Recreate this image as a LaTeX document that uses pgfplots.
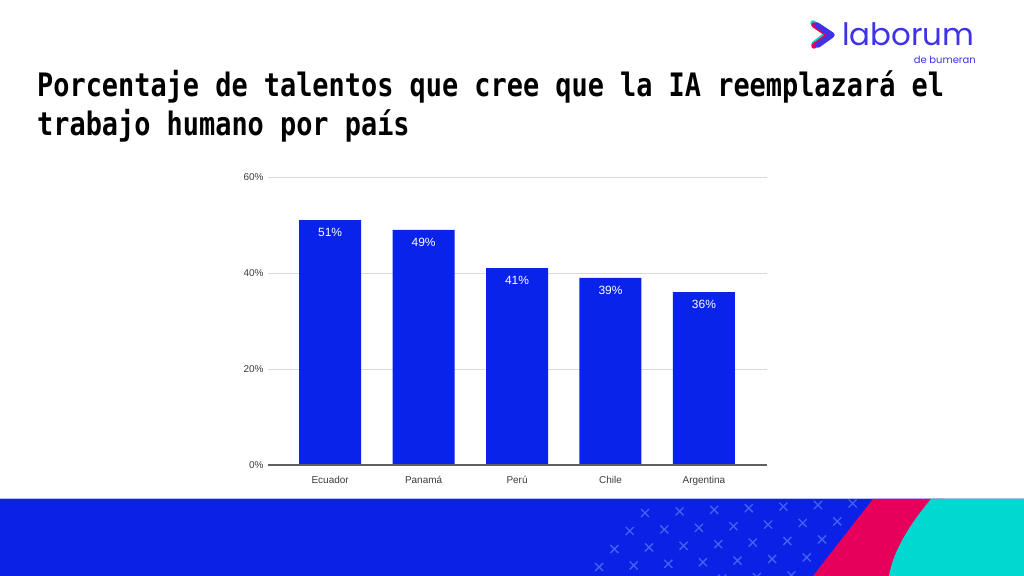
\documentclass[border=0pt]{standalone}
\usepackage{pgfplots}
\pgfplotsset{compat=1.18}
\usepackage{fontspec}
\setmainfont{Liberation Sans}
\newfontfamily\titlefont{DejaVu Sans Mono}
\newfontfamily\logofont{Poppins}
\definecolor{barblue}{HTML}{0A23EB}
\definecolor{bandblue}{HTML}{0B22E6}
\definecolor{magentac}{HTML}{E6005C}
\definecolor{tealc}{HTML}{00D8D0}
\definecolor{crossc}{HTML}{4561EF}
\definecolor{gridgray}{HTML}{DADADA}
\definecolor{axisgray}{HTML}{5F5F5F}
\definecolor{labgray}{HTML}{3C3C3C}
\definecolor{logoblue}{HTML}{4032E6}
\pgfplotstableread{
x y
0 51
1 49
2 41
3 39
4 36
}\datatable
\begin{document}
\begin{tikzpicture}[x=1bp,y=1bp]
\useasboundingbox (0,0) rectangle (1024,576);
\fill[white] (0,0) rectangle (1024,576);
\coordinate (A) at (268,111);
% bottom band
\fill[bandblue] (0,0) rectangle (1024,77);
\draw[crossc!40, line width=0.8] (0,77.4) -- (1024,77.4);
\begin{scope}
\clip (0,0) -- (813,0) -- (873,77) -- (0,77) -- cycle;
\foreach \r in {-1,0,1,2,3,4}{
  \foreach \c in {0,...,6}{
    \pgfmathsetmacro{\cx}{645-15.3*\r+34.6*\c}
    \pgfmathsetmacro{\cy}{63-18*\r+1.6*\c}
    \draw[crossc, line width=1.3] (\cx-4,\cy-4) -- (\cx+4,\cy+4) (\cx-4,\cy+4) -- (\cx+4,\cy-4);
  }
}
\end{scope}
\fill[magentac] (873,77) -- (945,77) -- (905,0) -- (813,0) -- cycle;
\fill[tealc] (931,77) .. controls (910,52) and (893,25) .. (889,0) -- (1024,0) -- (1024,77) -- cycle;
% title
\node[anchor=base west, inner sep=0] at (37,479) {\titlefont\bfseries\fontsize{27}{27}\selectfont\scalebox{1}[1.2]{Porcentaje de talentos que cree que la IA reemplazará el}};
\node[anchor=base west, inner sep=0] at (37,440) {\titlefont\bfseries\fontsize{27}{27}\selectfont\scalebox{1}[1.2]{trabajo humano por país}};
% logo
\draw[tealc, line width=5.5, line cap=round, line join=round] (813,553) -- (828,543) -- (814,532);
\draw[magentac, line width=5.5, line cap=round, line join=round] (814,551) -- (829,541) -- (814,530);
\draw[logoblue, line width=5.5, line cap=round, line join=round] (817,551) -- (832,541) -- (818,531);
\node[anchor=base west, inner sep=0, text=logoblue] at (842,530) {\logofont\fontsize{31}{31}\selectfont laborum};
\node[anchor=base east, inner sep=0, text=logoblue] at (976,512) {\logofont\fontsize{10}{10}\selectfont de bumeran};
% chart
\begin{axis}[
  at={(A)}, anchor=south west,
  scale only axis, width=499bp, height=288bp,
  xmin=-0.665, xmax=4.675, ymin=0, ymax=60,
  ytick={0,20,40,60},
  xtick=data,
  xticklabels={Ecuador,Panamá,Perú,Chile,Argentina},
  /pgf/number format/assume math mode=true,
  yticklabel={\pgfmathprintnumber{\tick}\%},
  axis line style={draw=none},
  tick style={draw=none},
  ymajorgrids,
  grid style={color=gridgray, line width=0.9},
  yticklabel style={font=\fontsize{10}{10}\selectfont, text=labgray, xshift=-1bp},
  xticklabel style={font=\fontsize{10}{10}\selectfont, text=labgray, anchor=base, yshift=-14.5bp},
  ybar, bar width=62bp,
  clip=false,
]
\addplot[fill=barblue, draw=none,
  nodes near coords={\pgfmathprintnumber{\pgfplotspointmeta}\%},
  every node near coord/.append style={anchor=north, yshift=-8bp, text=white, font=\fontsize{12}{12}\selectfont, inner sep=0}
] table[x=x,y=y] {\datatable};
\draw[axisgray, line width=1.3] (rel axis cs:0,0) -- (rel axis cs:1,0);
\end{axis}
\end{tikzpicture}
\end{document}
